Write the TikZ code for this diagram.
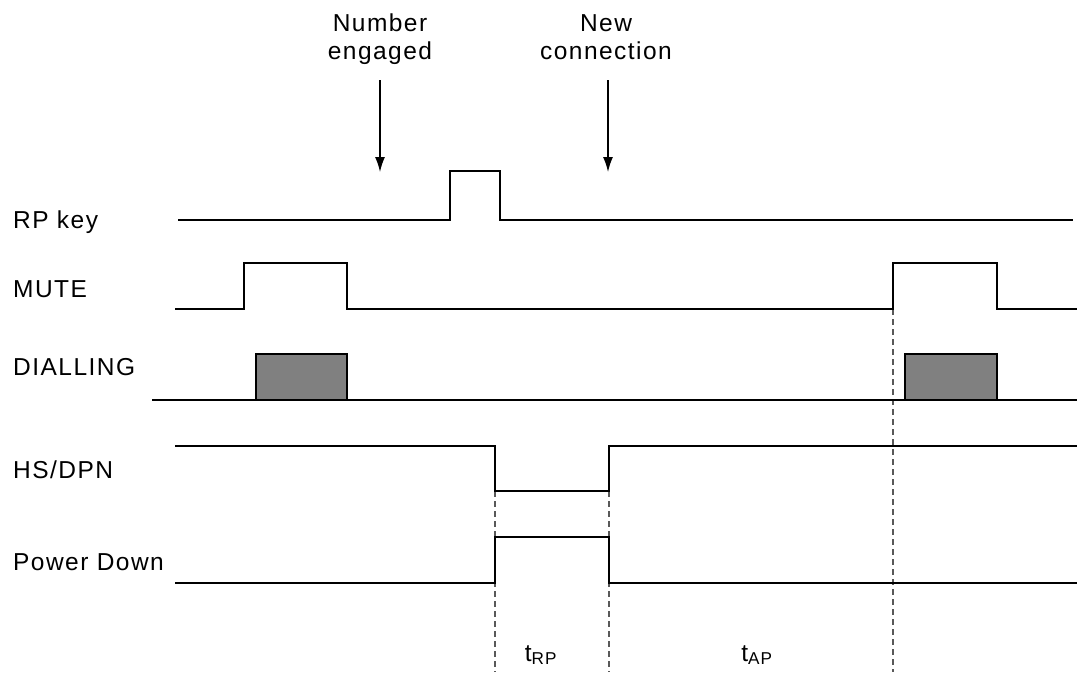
\documentclass[tikz,border=0pt]{standalone}
\usepackage{fontspec}
\setmainfont{Liberation Sans}[LetterSpace=6]
\usetikzlibrary{arrows.meta}
\begin{document}
\begin{tikzpicture}[x=1pt,y=-1pt,
  sig/.style={line width=2.2pt, line join=miter, line cap=butt},
  lbl/.style={anchor=base west, inner sep=0pt, font=\fontsize{24.5}{28}\selectfont},
  toplbl/.style={anchor=north, inner sep=0pt, align=center, font=\fontsize{24.5}{28}\selectfont},
  tlbl/.style={anchor=base, inner sep=0pt, font=\fontsize{24.5}{28}\selectfont},
  guide/.style={draw=black!65, line width=1.4pt, dash pattern=on 6pt off 4pt},
  arr/.style={line width=1.4pt, -{Latex[length=15pt,width=10pt]}},
  dial/.style={draw=black, line width=1.6pt, fill=black!50}]
\useasboundingbox (0,0) rectangle (1078,672);

% labels
\node[lbl] (lrp) at (13,228) {RP key};
\node[lbl] (lmute) at (13,297) {MUTE};
\node[lbl] (ldial) at (13,375) {DIALLING};
\node[lbl] (lhs) at (13,478) {HS/DPN};
\node[lbl] (lpd) at (13,570) {Power Down};

% top annotations
\node[toplbl] (ne) at (380,14) {Number\\engaged};
\node[toplbl] (nc) at (606,14) {New\\connection};
\coordinate (ne1) at (380,80);
\coordinate (ne2) at (380,172);
\coordinate (nc1) at (608,80);
\coordinate (nc2) at (608,172);
\draw[arr] (ne1) -- (ne2);
\draw[arr] (nc1) -- (nc2);

% guides
\coordinate (g1a) at (495,491); \coordinate (g1b) at (495,672);
\coordinate (g2a) at (609,491); \coordinate (g2b) at (609,672);
\coordinate (g3a) at (893,309); \coordinate (g3b) at (893,672);
\draw[guide] (g1a) -- (g1b);
\draw[guide] (g2a) -- (g2b);
\draw[guide] (g3a) -- (g3b);

% RP key
\draw[sig] (178,220) -- (450,220) -- (450,171) -- (500,171) -- (500,220) -- (1073,220);
% MUTE
\draw[sig] (175,309) -- (244,309) -- (244,263) -- (347,263) -- (347,309)
  -- (893,309) -- (893,263) -- (997,263) -- (997,309) -- (1077,309);
% DIALLING
\draw[sig] (152,400) -- (1077,400);
\draw[dial] (256,400) rectangle (347,354);
\draw[dial] (905,400) rectangle (997,354);
% HS/DPN
\draw[sig] (175,446) -- (495,446) -- (495,491) -- (609,491) -- (609,446) -- (1077,446);
% Power Down
\draw[sig] (175,583) -- (495,583) -- (495,537) -- (609,537) -- (609,583) -- (1077,583);

% timing labels
\node[tlbl] (trp) at (541,661) {t\textsubscript{RP}};
\node[tlbl] (tap) at (757,661) {t\textsubscript{AP}};
\end{tikzpicture}
\end{document}
